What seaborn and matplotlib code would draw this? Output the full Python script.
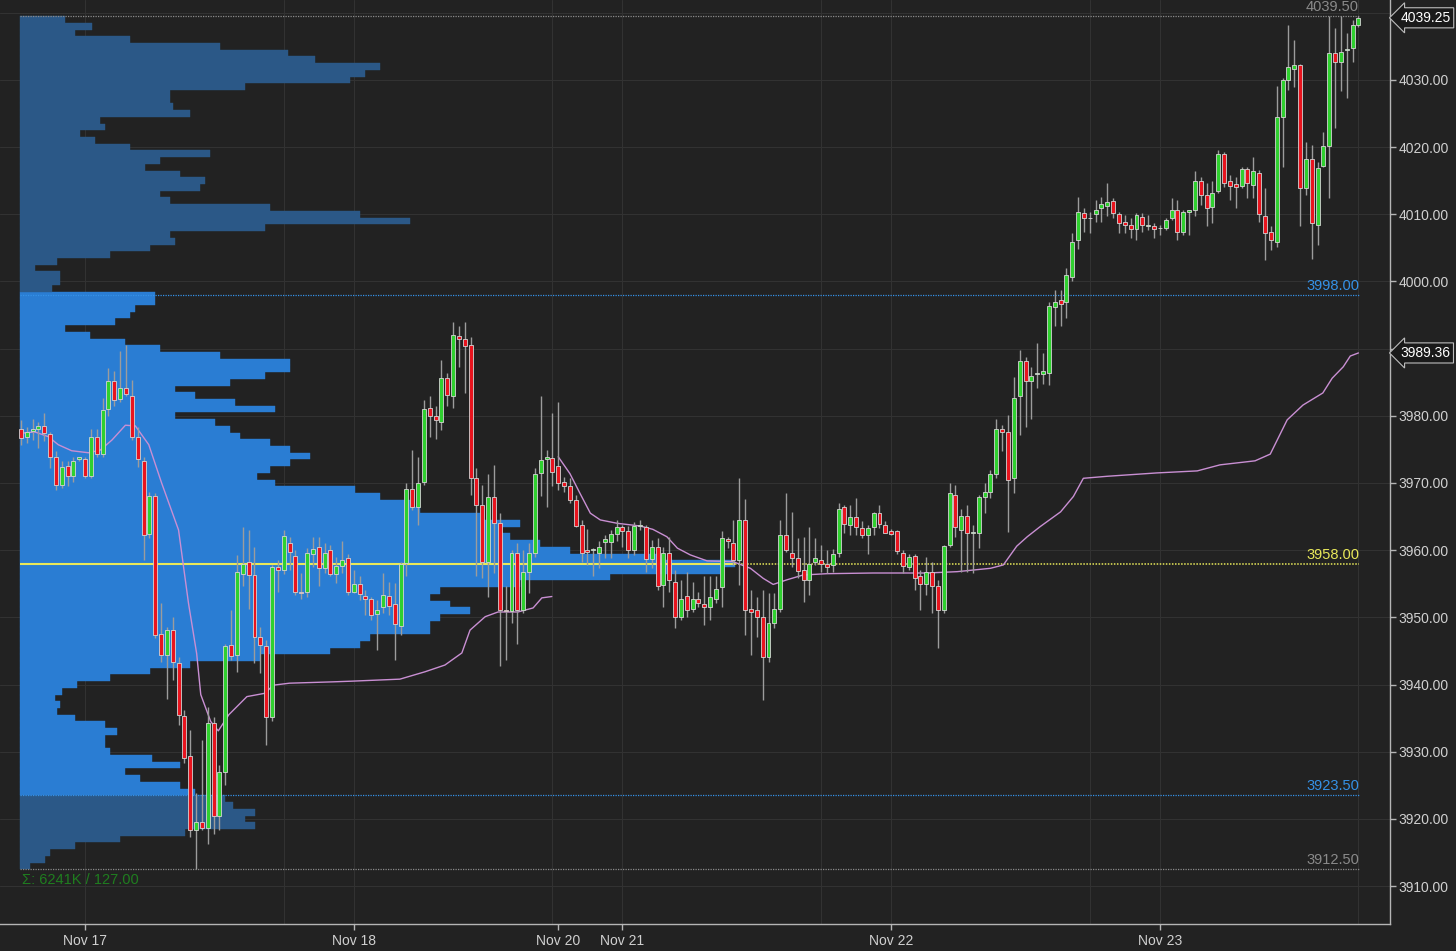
import numpy as np
import pandas as pd
import seaborn as sns
import matplotlib.pyplot as plt
from matplotlib.transforms import blended_transform_factory

# 30 min bars, Nov 16 18:00 -> Nov 23 17:00 (trading hours only, 46 bars / session)
opens = [3978.0, 3976.8, 3977.7, 3978.1, 3978.5, 3977.3, 3973.8, 3969.7, 3972.5, 3971.0,
         3973.5, 3973.5, 3971.1, 3976.9, 3974.3, 3981.0, 3985.2, 3982.5, 3984.2, 3983.0,
         3976.9, 3973.3, 3962.4, 3968.1, 3947.5, 3944.4, 3948.1, 3943.2, 3935.3, 3929.3,
         3918.3, 3919.6, 3918.6, 3934.3, 3920.4, 3927.0, 3945.9, 3944.4, 3956.5, 3958.3,
         3956.3, 3947.0, 3945.7, 3935.2, 3957.5, 3957.1,
         3961.0, 3959.1, 3953.8, 3953.7, 3959.4, 3960.4, 3957.4, 3960.0, 3956.5, 3957.6,
         3958.8, 3953.8, 3954.9, 3953.2, 3952.7, 3950.5, 3951.5, 3953.2, 3952.0, 3948.7,
         3958.1, 3969.1, 3966.4, 3970.1, 3981.1, 3979.9, 3979.1, 3985.6, 3983.0, 3991.9,
         3991.4, 3990.6, 3970.7, 3966.7, 3958.3, 3967.9, 3964.0, 3951.1, 3950.9, 3959.6,
         3951.1, 3956.8, 3959.6, 3971.5, 3973.5, 3973.7,
         3972.6, 3970.1, 3969.5, 3967.5, 3963.7, 3960.0, 3960.0, 3959.6, 3961.2, 3961.2,
         3962.4, 3963.4, 3962.9, 3960.0, 3963.6, 3963.4, 3958.7, 3960.4, 3954.8, 3959.6,
         3955.2, 3950.1, 3953.2, 3951.2, 3952.7, 3952.0, 3951.6, 3952.8, 3954.5, 3961.6,
         3961.1, 3958.5, 3964.5, 3951.3, 3951.1, 3950.0, 3944.1, 3949.1, 3951.3, 3962.3,
         3959.6, 3958.9, 3957.1, 3955.5, 3958.3, 3958.6,
         3957.9, 3957.8, 3959.6, 3966.4, 3963.8, 3964.9, 3963.3, 3962.3, 3963.5, 3965.5,
         3963.8, 3962.9, 3962.8, 3959.6, 3957.5, 3959.1, 3956.2, 3955.0, 3956.7, 3954.6,
         3951.1, 3960.8, 3968.2, 3963.0, 3965.1, 3962.6, 3962.6, 3967.9, 3968.6, 3971.4,
         3978.1, 3977.6, 3970.7, 3983.0, 3988.2, 3985.2, 3986.2, 3986.2, 3986.4, 3996.2,
         3997.2, 3997.0, 4000.7, 4006.2, 4010.2, 4009.4,
         4010.0, 4011.0, 4011.2, 4012.0, 4010.1, 4008.8, 4008.4, 4007.8, 4009.6, 4008.3,
         4008.2, 4007.9, 4007.9, 4009.4, 4010.6, 4007.4, 4010.4, 4010.6, 4014.9, 4012.9,
         4011.1, 4013.4, 4019.0, 4014.9, 4014.5, 4014.2, 4016.7, 4014.4, 4016.1, 4009.7,
         4007.4, 4005.9, 4024.5, 4030.0, 4031.7, 4032.2, 4013.9, 4018.3, 4008.4, 4017.2,
         4020.2, 4034.0, 4032.7, 4034.5, 4034.7, 4038.2]
highs = [3979.4, 3978.4, 3979.6, 3979.1, 3980.4, 3977.6, 3974.7, 3973.2, 3973.2, 3973.9,
         3973.9, 3973.9, 3978.1, 3978.1, 3982.6, 3987.1, 3986.6, 3989.6, 3990.5, 3985.3,
         3978.4, 3973.9, 3968.7, 3968.5, 3952.1, 3948.6, 3950.1, 3944.1, 3936.2, 3933.2,
         3923.8, 3931.7, 3936.7, 3935.2, 3928.0, 3946.1, 3951.1, 3959.3, 3963.5, 3963.0,
         3960.5, 3948.6, 3946.6, 3957.8, 3958.5, 3963.0,
         3962.0, 3960.0, 3956.6, 3960.3, 3962.0, 3962.0, 3961.0, 3960.8, 3959.0, 3961.3,
         3959.5, 3957.0, 3956.1, 3954.1, 3953.1, 3952.6, 3956.6, 3955.3, 3955.1, 3958.3,
         3970.0, 3974.9, 3973.9, 3982.4, 3982.9, 3981.4, 3988.3, 3986.3, 3994.0, 3993.3,
         3994.0, 3991.8, 3972.2, 3969.7, 3971.4, 3972.7, 3965.5, 3954.6, 3960.0, 3961.0,
         3960.0, 3961.0, 3972.2, 3982.9, 3974.9, 3980.4,
         3982.1, 3970.9, 3970.7, 3968.2, 3964.5, 3963.1, 3960.3, 3961.3, 3962.3, 3963.0,
         3964.5, 3963.7, 3963.6, 3964.2, 3964.5, 3963.7, 3961.5, 3961.8, 3960.5, 3962.0,
         3957.0, 3955.6, 3956.8, 3955.3, 3953.8, 3956.1, 3956.1, 3956.1, 3962.8, 3962.0,
         3964.5, 3970.7, 3967.6, 3954.1, 3953.1, 3954.1, 3953.6, 3953.6, 3964.5, 3968.5,
         3965.7, 3961.8, 3962.0, 3963.4, 3961.8, 3960.8,
         3960.0, 3960.1, 3967.0, 3966.7, 3966.7, 3967.7, 3964.3, 3963.7, 3965.7, 3966.7,
         3964.3, 3963.1, 3963.0, 3960.0, 3959.5, 3959.5, 3957.0, 3959.0, 3958.3, 3955.6,
         3960.8, 3970.0, 3969.7, 3966.2, 3966.7, 3963.7, 3968.2, 3970.0, 3972.0, 3979.6,
         3978.6, 3980.1, 3985.8, 3989.8, 3988.8, 3987.3, 3990.8, 3989.3, 3997.0, 3998.7,
         3998.7, 4002.0, 4007.2, 4012.6, 4010.9, 4010.4,
         4012.1, 4012.6, 4014.6, 4012.4, 4010.4, 4009.9, 4009.4, 4010.2, 4010.2, 4009.9,
         4008.7, 4008.4, 4009.4, 4012.4, 4012.1, 4010.6, 4010.6, 4016.4, 4015.6, 4014.6,
         4014.9, 4019.6, 4019.3, 4015.9, 4015.6, 4017.1, 4017.1, 4018.6, 4016.6, 4013.9,
         4008.2, 4029.1, 4030.3, 4038.2, 4035.9, 4032.4, 4020.8, 4020.3, 4017.8, 4022.3,
         4039.5, 4037.7, 4039.5, 4037.0, 4038.9, 4039.5]
lows = [3975.7, 3975.9, 3976.4, 3975.2, 3976.2, 3972.2, 3969.0, 3969.2, 3969.5, 3970.2,
        3973.2, 3970.7, 3970.7, 3973.9, 3973.9, 3979.9, 3981.4, 3982.1, 3982.9, 3976.4,
        3972.4, 3958.5, 3961.8, 3946.9, 3943.4, 3937.9, 3940.7, 3934.0, 3928.3, 3917.3,
        3912.5, 3918.3, 3916.3, 3917.8, 3918.3, 3925.0, 3943.6, 3941.9, 3954.6, 3951.3,
        3943.2, 3941.7, 3931.0, 3934.5, 3953.8, 3956.5,
        3957.0, 3953.3, 3952.8, 3953.1, 3957.5, 3954.6, 3956.6, 3956.1, 3955.1, 3956.6,
        3953.3, 3953.6, 3952.6, 3950.4, 3949.6, 3945.1, 3950.6, 3950.4, 3943.6, 3947.4,
        3956.1, 3966.0, 3963.7, 3969.7, 3976.9, 3976.6, 3977.9, 3981.4, 3981.1, 3987.3,
        3983.4, 3968.2, 3956.1, 3955.8, 3953.1, 3956.6, 3942.7, 3943.6, 3949.1, 3946.1,
        3950.6, 3953.6, 3959.0, 3968.0, 3966.5, 3969.5,
        3969.0, 3968.7, 3967.0, 3963.4, 3958.3, 3957.8, 3956.1, 3957.3, 3958.8, 3958.9,
        3961.3, 3960.5, 3958.8, 3959.3, 3963.0, 3956.8, 3957.3, 3954.1, 3951.6, 3953.8,
        3948.4, 3949.6, 3950.1, 3950.8, 3951.6, 3948.9, 3949.6, 3952.1, 3951.6, 3960.3,
        3957.8, 3954.8, 3947.4, 3944.4, 3947.1, 3937.7, 3943.4, 3948.4, 3950.8, 3959.8,
        3957.5, 3955.8, 3952.3, 3953.3, 3957.8, 3956.8,
        3956.6, 3956.8, 3959.0, 3962.5, 3962.3, 3962.3, 3961.8, 3959.5, 3962.3, 3963.3,
        3962.5, 3962.3, 3959.5, 3956.6, 3957.1, 3954.1, 3951.1, 3953.3, 3950.6, 3945.4,
        3950.6, 3960.5, 3962.0, 3956.8, 3956.8, 3956.6, 3960.3, 3965.5, 3967.7, 3970.7,
        3974.7, 3962.7, 3968.5, 3977.2, 3978.4, 3979.6, 3984.1, 3984.8, 3984.6, 3993.3,
        3993.3, 3994.5, 4000.0, 4004.9, 4007.4, 4007.2,
        4008.9, 4008.9, 4009.7, 4009.4, 4007.2, 4007.2, 4006.4, 4006.2, 4007.4, 4007.7,
        4006.4, 4006.9, 4007.7, 4009.2, 4006.2, 4006.9, 4006.9, 4009.7, 4011.4, 4008.2,
        4008.7, 4013.2, 4014.1, 4012.1, 4010.9, 4013.9, 4012.4, 4012.4, 4008.9, 4003.2,
        4004.7, 4005.2, 4017.1, 4028.5, 4029.0, 4008.2, 4012.9, 4003.4, 4005.4, 4017.1,
        4012.4, 4022.8, 4028.3, 4027.3, 4032.7, 4037.9]
closes = [3976.75, 3977.6, 3978.1, 3978.5, 3977.4, 3973.9, 3969.7, 3972.4, 3971.0, 3973.3,
          3973.8, 3971.0, 3976.9, 3974.3, 3980.9, 3985.2, 3982.4, 3984.2, 3983.3, 3976.9,
          3973.6, 3962.3, 3968.1, 3947.4, 3944.4, 3948.1, 3943.3, 3935.5, 3929.0, 3918.3,
          3919.6, 3918.7, 3934.3, 3920.4, 3927.0, 3945.7, 3944.3, 3956.8, 3958.0, 3956.3,
          3947.1, 3945.9, 3935.1, 3957.5, 3957.1, 3962.1,
          3959.8, 3953.7, 3953.6, 3959.6, 3960.1, 3957.4, 3959.6, 3956.5, 3957.6, 3958.6,
          3953.8, 3955.0, 3953.5, 3952.8, 3950.3, 3951.1, 3953.3, 3951.7, 3949.0, 3958.0,
          3969.1, 3966.4, 3970.0, 3981.0, 3980.0, 3979.4, 3985.6, 3983.1, 3992.1, 3991.4,
          3990.4, 3970.7, 3966.7, 3958.3, 3967.9, 3964.0, 3951.1, 3950.9, 3959.6, 3951.1,
          3956.8, 3959.6, 3971.4, 3973.4, 3973.9, 3971.7,
          3970.0, 3969.5, 3967.4, 3963.6, 3959.6, 3959.8, 3960.0, 3960.5, 3961.7, 3962.4,
          3963.4, 3962.8, 3960.0, 3963.6, 3963.6, 3958.7, 3960.5, 3954.7, 3959.6, 3955.5,
          3950.0, 3952.8, 3951.1, 3952.8, 3952.2, 3951.5, 3953.1, 3954.2, 3961.8, 3961.4,
          3958.5, 3964.5, 3951.1, 3950.8, 3950.0, 3944.1, 3949.1, 3951.3, 3962.3, 3960.0,
          3958.9, 3956.9, 3955.5, 3958.0, 3958.9, 3958.0,
          3957.5, 3959.4, 3966.2, 3963.9, 3965.0, 3963.4, 3962.3, 3963.3, 3965.5, 3963.9,
          3962.6, 3962.4, 3959.9, 3957.6, 3959.0, 3955.9, 3955.0, 3956.7, 3954.7, 3951.1,
          3960.6, 3968.5, 3963.4, 3965.1, 3962.6, 3962.6, 3967.9, 3968.6, 3971.4, 3978.0,
          3977.6, 3970.4, 3982.6, 3988.2, 3985.2, 3985.9, 3986.2, 3986.6, 3996.3, 3997.0,
          3996.7, 4001.0, 4005.9, 4010.4, 4009.4, 4009.4,
          4010.6, 4011.5, 4011.9, 4010.2, 4008.7, 4008.4, 4007.8, 4009.9, 4008.4, 4008.3,
          4007.8, 4007.9, 4009.2, 4010.6, 4007.4, 4010.4, 4010.6, 4014.9, 4012.9, 4010.9,
          4013.2, 4019.0, 4014.7, 4014.2, 4014.1, 4016.7, 4014.6, 4016.4, 4010.0, 4007.2,
          4006.1, 4024.5, 4030.0, 4031.9, 4032.2, 4013.9, 4018.3, 4008.7, 4016.9, 4020.2,
          4034.0, 4032.7, 4034.2, 4034.6, 4038.2, 4039.25]

# session vwap, read at a few bar positions
vwap1_x = [0, 2.4, 4.7, 6.4, 8.7, 11.6, 13.6, 15.6, 17.9, 19.6, 21.9, 24.1, 27.0, 28.7,
           30.1, 30.8, 32.5, 33.8, 35.6, 38.7, 41.8, 43.2, 46.0, 53.5, 56.7, 64.9, 69.2,
           72.6, 75.5, 76.9, 79.5, 81.7, 85.1, 87.7, 89.2, 90.9]
vwap1_y = [3977.4, 3977.6, 3976.9, 3975.7, 3974.8, 3974.5, 3974.9, 3976.4, 3978.6, 3978.5,
           3975.7, 3970.0, 3963.0, 3952.1, 3944.6, 3938.5, 3934.5, 3933.1, 3935.5, 3938.2,
           3938.7, 3939.9, 3940.2, 3940.4, 3940.5, 3940.8, 3941.9, 3942.9, 3944.7, 3948.1,
           3950.1, 3950.8, 3950.8, 3951.4, 3952.9, 3953.1]
vwap2_x = [92.0, 94.0, 95.7, 97.5, 99.2, 102.1, 106.0, 108.2, 110.6, 112.4, 114.6, 117.5,
           121.9, 124.9, 127.1, 128.8, 131.2, 133.9, 138.0, 145.9, 155.2, 160.3, 166.0,
           168.2, 170.5, 172.3, 174.5, 178.0, 180.2, 181.9, 186.0, 194.5, 201.4, 205.3,
           211.3, 213.9, 216.8, 219.5, 222.9, 224.5, 226.4, 227.6, 229.0]
vwap2_y = [3973.9, 3971.4, 3968.5, 3965.5, 3964.5, 3964.0, 3963.6, 3963.1, 3962.0, 3960.3,
           3959.3, 3958.4, 3958.3, 3957.3, 3955.8, 3954.9, 3955.6, 3956.3, 3956.5, 3956.6,
           3956.6, 3956.8, 3957.3, 3957.8, 3960.6, 3962.0, 3963.5, 3965.7, 3968.0, 3970.7,
           3971.0, 3971.5, 3971.8, 3972.7, 3973.3, 3974.3, 3979.4, 3981.6, 3983.4, 3985.6,
           3987.3, 3988.9, 3989.36]

# volume profile, 1 pt rows 3913 .. 4039
prof_vol = [10, 25, 30, 55, 100, 165, 235, 225, 235, 213,
            205, 175, 160, 120, 105, 160, 132, 90, 85, 85,
            97, 85, 55, 37, 40, 35, 42, 57, 90, 130,
            170, 240, 310, 340, 350, 410, 410, 420, 450, 430,
            410, 420, 500, 590, 700, 715, 640, 550, 520, 490,
            480, 500, 460, 400, 390, 360, 335, 255, 237, 250,
            270, 290, 270, 250, 220, 210, 195, 155, 255, 215,
            175, 155, 210, 245, 270, 270, 200, 140, 105, 70,
            45, 95, 110, 115, 135, 135, 32, 40, 40, 15,
            37, 90, 130, 155, 150, 245, 390, 340, 250, 150,
            140, 180, 185, 160, 125, 140, 190, 110, 75, 60,
            85, 80, 170, 153, 150, 150, 225, 330, 345, 360,
            295, 268, 200, 110, 55, 72, 45]
prof_prices = list(range(3913, 4040))
val_low, val_high, poc = 3923.5, 3998.0, 3958.0
range_low, range_high = 3912.5, 4039.5
last_price = 3989.36 * 0 + 4039.25
vwap_last = 3989.36

date_labels = ["Nov 17", "Nov 18", "Nov 20", "Nov 21", "Nov 22", "Nov 23"]
date_bars = [11, 57, 92, 103, 149, 195]
session_lines = [11, 45, 57, 91, 103, 137, 149, 183, 195, 229]

BG = "#222222"
GRID = "#323232"
GREEN = "#2fd02f"
RED = "#e8141e"
BLUE_VA = "#2a7dd3"
BLUE_OUT = "#2b5887"
LEVEL_BLUE = "#3591e6"
YELLOW = "#e8e85a"

sns.set_theme(style="dark", rc={"axes.facecolor": BG, "figure.facecolor": BG,
                                "axes.grid": False})
plt.rcParams["font.family"] = ["Liberation Sans", "DejaVu Sans"]

fig = plt.figure(figsize=(14.56, 9.51), dpi=100)
ax = fig.add_axes([0, 27 / 951, 1390 / 1456, 924 / 951])
ax.set_xlim(-3.57, 234.4)
ax.set_ylim(3904.35, 4041.9)

for y in range(3910, 4041, 10):
    ax.axhline(y, color=GRID, lw=0.8, zorder=0)
for x in session_lines:
    ax.axvline(x, color=GRID, lw=0.8, zorder=0)

# profile
prof_left = -0.15
px_per_bar = 5.84
prof = pd.DataFrame({"price": prof_prices, "vol": prof_vol})
in_va = (prof.price > val_low) & (prof.price <= val_high)
pcol = np.where(in_va, BLUE_VA, BLUE_OUT)
ax.barh(prof.price, prof.vol / px_per_bar, left=prof_left, height=1.0,
        color=pcol, edgecolor=pcol, linewidth=0.3, zorder=1)

# levels
x_end = 229.1
poc_len = prof.vol[prof.price == poc].iloc[0] / px_per_bar
dot = (0, (1, 1))
ax.hlines(range_high, prof_left, x_end, colors="#8a8a8a", linestyles=dot, lw=0.9, zorder=2)
ax.hlines(range_low, prof_left, x_end, colors="#8a8a8a", linestyles=dot, lw=0.9, zorder=2)
ax.hlines(val_high, prof_left, x_end, colors=LEVEL_BLUE, linestyles=dot, lw=0.9, zorder=2)
ax.hlines(val_low, prof_left, x_end, colors=LEVEL_BLUE, linestyles=dot, lw=0.9, zorder=2)
ax.hlines(poc, prof_left, prof_left + poc_len, colors=YELLOW, lw=1.5, zorder=2)
ax.hlines(poc, prof_left + poc_len, x_end, colors=YELLOW, linestyles=dot, lw=1.1, zorder=2)
for v, c in [(range_high, "#8a8a8a"), (val_high, LEVEL_BLUE), (poc, YELLOW),
             (val_low, LEVEL_BLUE), (range_low, "#8a8a8a")]:
    ax.annotate(f"{v:.2f}", xy=(x_end, v), xytext=(0, 1.5), textcoords="offset points",
                ha="right", va="bottom", color=c, fontsize=10.5, zorder=6)

ax.annotate(f"\u03a3: 6241K / {range_high - range_low:.2f}", xy=(prof_left, range_low),
            xytext=(1.5, -3), textcoords="offset points", ha="left", va="top",
            color="#1f7d1f", fontsize=10.5)

# vwap
sns.lineplot(x=vwap1_x, y=vwap1_y, ax=ax, color="#c98fd3", lw=1.0, sort=False,
             legend=False, zorder=3)
sns.lineplot(x=vwap2_x, y=vwap2_y, ax=ax, color="#c98fd3", lw=1.0, sort=False,
             legend=False, zorder=3)

# candles
df = pd.DataFrame({"o": opens, "h": highs, "l": lows, "c": closes})
df["x"] = np.arange(len(df))
up = df.c >= df.o
ax.vlines(df.x, df.l, df.h, color="#9c9c9c", lw=1.0, zorder=4)
body_lo = np.minimum(df.o, df.c)
body_h = np.maximum((df.c - df.o).abs(), 0.12)
ax.bar(df.x, body_h, bottom=body_lo, width=0.68, color=np.where(up, GREEN, RED),
       edgecolor="#d5d5d5", linewidth=0.6, zorder=5)

# axes
ax.yaxis.tick_right()
ax.set_yticks(range(3910, 4031, 10))
ax.set_yticklabels([f"{t:.2f}" for t in range(3910, 4031, 10)])
ax.set_xticks(date_bars)
ax.set_xticklabels(date_labels)
ax.tick_params(axis="y", length=4, width=1, color="#b5b5b5", labelcolor="#d0d0d0",
               labelsize=10, pad=2, right=True, left=False)
ax.tick_params(axis="x", length=4, width=1, color="#b5b5b5", labelcolor="#d0d0d0",
               labelsize=10, pad=3, bottom=True)
for s in ["top", "left"]:
    ax.spines[s].set_visible(False)
for s in ["right", "bottom"]:
    ax.spines[s].set_visible(True)
    ax.spines[s].set_color("#b5b5b5")
    ax.spines[s].set_linewidth(1.0)

trans = blended_transform_factory(ax.transAxes, ax.transData)
for v in [last_price, vwap_last]:
    ax.text(1.0075, v, f"{v:.2f}", transform=trans, ha="left", va="center",
            color="white", fontsize=10, zorder=20, clip_on=False,
            bbox=dict(boxstyle="larrow,pad=0.22", fc="#1a1a1a", ec="#bdbdbd", lw=0.8))

fig.savefig("out.png", dpi=100, facecolor=BG)
